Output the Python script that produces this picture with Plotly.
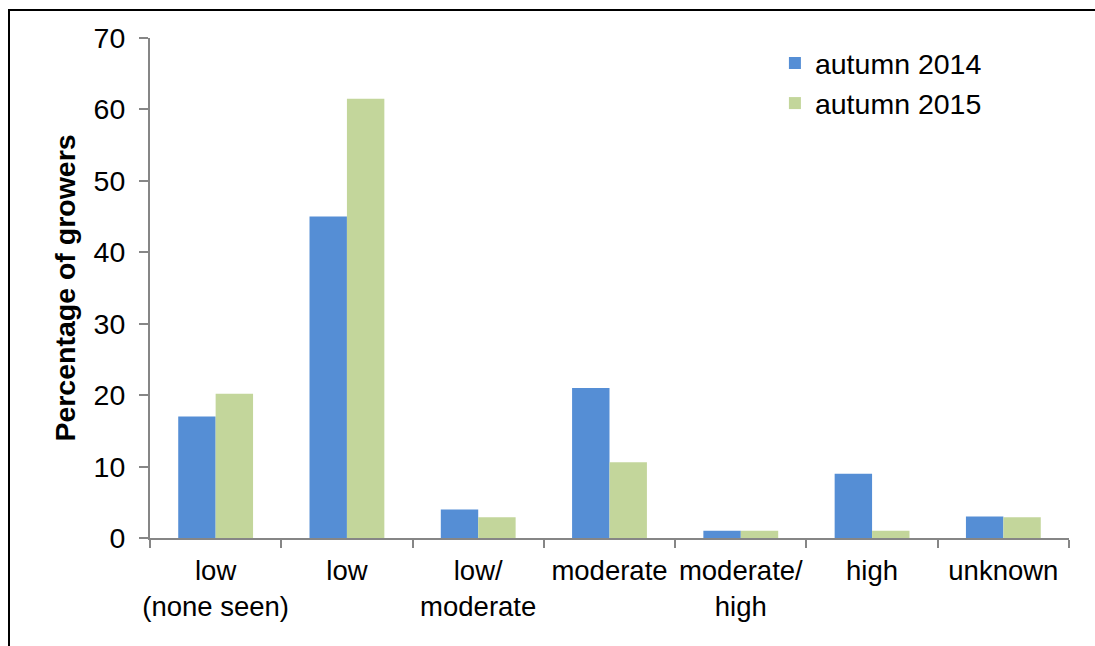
import plotly.graph_objects as go

categories = ["low<br>(none seen)", "low", "low/<br>moderate", "moderate",
              "moderate/<br>high", "high", "unknown"]
autumn_2014 = [17, 45, 4, 21, 1, 9, 3]
autumn_2015 = [20.2, 61.5, 2.9, 10.6, 1, 1, 2.9]
y_ticks = [0, 10, 20, 30, 40, 50, 60, 70]

FONT = "Liberation Sans, Arial, sans-serif"
AXIS_GRAY = "#868686"

fig = go.Figure()
fig.add_trace(go.Bar(x=categories, y=autumn_2014, name="autumn 2014",
                     marker=dict(color="#558ED5", line=dict(width=0))))
fig.add_trace(go.Bar(x=categories, y=autumn_2015, name="autumn 2015",
                     marker=dict(color="#C3D69B", line=dict(width=0))))

fig.update_layout(
    width=1095, height=646,
    margin=dict(l=150, r=26, t=38, b=108),
    paper_bgcolor="white", plot_bgcolor="white",
    barmode="group", bargap=0.43, bargroupgap=0,
    font=dict(family=FONT, size=28, color="black"),
    legend=dict(x=0.68, y=1.0, xanchor="left", yanchor="top",
                font=dict(size=28.5, family=FONT), bgcolor="rgba(0,0,0,0)",
                itemwidth=30, tracegroupgap=0),
    xaxis=dict(
        type="category", tickson="boundaries", ticks="outside", ticklen=8,
        tickcolor=AXIS_GRAY, tickwidth=2, showline=True, linecolor=AXIS_GRAY,
        linewidth=2, showgrid=False, tickfont=dict(size=27.5, family=FONT),
        ticklabelstandoff=7, tickangle=0, automargin=False,
    ),
    yaxis=dict(
        range=[0, 70], tickvals=y_ticks, ticks="outside", ticklen=9,
        tickcolor=AXIS_GRAY, tickwidth=2, showline=True, linecolor=AXIS_GRAY,
        linewidth=2, showgrid=False, zeroline=False, automargin=False,
        tickfont=dict(size=28.5, family=FONT), ticklabelstandoff=8,
        title=dict(text="<b>Percentage of growers</b>",
                   font=dict(size=28.5, family=FONT), standoff=10),
    ),
    shapes=[dict(type="rect", xref="paper", yref="paper",
                 x0=(9 - 150) / 919, x1=1.2, y0=-0.4, y1=(538 - 10) / 500,
                 line=dict(color="black", width=2), layer="below")],
)

fig.write_html("out.html")
